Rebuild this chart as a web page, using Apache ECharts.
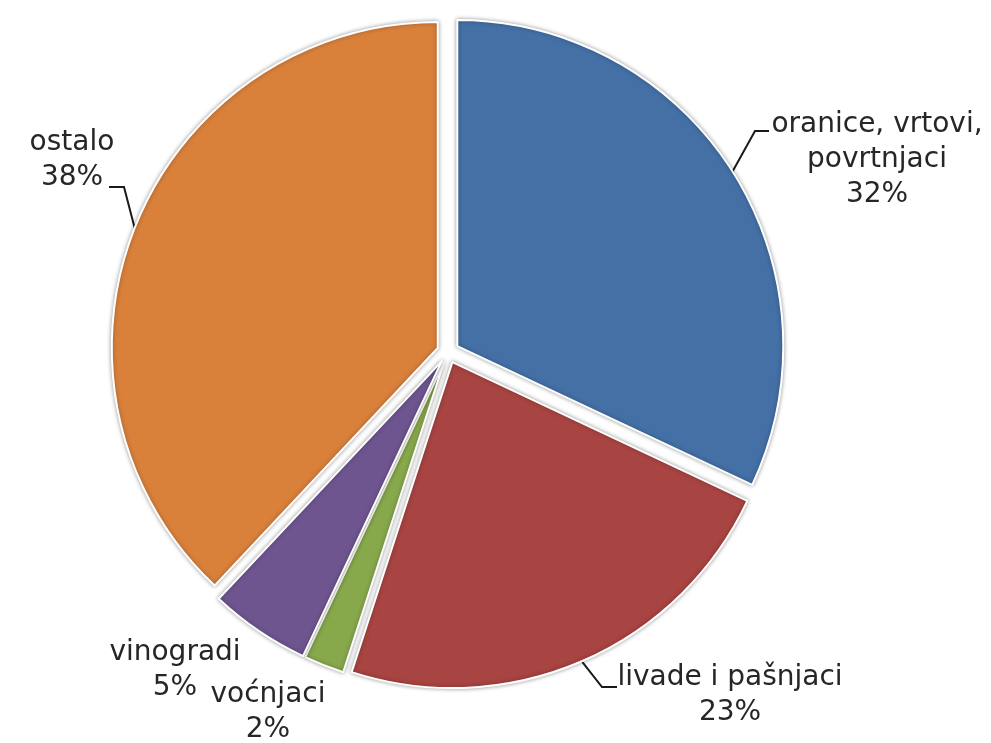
<!DOCTYPE html>
<html>
<head>
<meta charset="utf-8">
<script src="https://cdn.jsdelivr.net/npm/echarts@6/dist/echarts.min.js"></script>
<style>
  html, body { margin: 0; padding: 0; background: #fff; }
  #chart { width: 991px; height: 743px; }
</style>
</head>
<body>
<div id="chart"></div>
<script>
// podaci (udio u %)
const categories = ['oranice, vrtovi,\npovrtnjaci', 'livade i pašnjaci', 'voćnjaci', 'vinogradi', 'ostalo']
const shares = [32, 23, 2, 5, 38]
const sliceColors = ['#4470a6', '#a84442', '#88a84c', '#6e5590', '#d9803b']

// gdje stoje natpisi (centar teksta) i lomovi linija
const labelSpots = [
  { x: 877, y: 160, line: [[755, 131], [769, 131]] },
  { x: 730, y: 695, line: [[602, 687], [617, 687]] },
  { x: 268, y: 712, line: null },
  { x: 175, y: 670, line: null },
  { x: 72, y: 160, line: [[124, 187], [109, 187]] }
]

const pieCenter = [448, 352]
const pieRadius = 326
const explode = 11

const chart = echarts.init(document.getElementById('chart'))

const option = {
  animation: false,
  backgroundColor: '#fff',
  series: [
    {
      // isjecci, malo razmaknuti
      type: 'pie',
      center: pieCenter,
      radius: pieRadius,
      startAngle: 90,
      selectedMode: 'multiple',
      selectedOffset: explode,
      silent: true,
      itemStyle: {
        borderColor: '#fff',
        borderWidth: 2,
        shadowBlur: 4,
        shadowColor: 'rgba(0, 0, 0, 0.35)'
      },
      label: { show: false },
      labelLine: { show: false },
      data: categories.map((name, i) => ({
        name: name,
        value: shares[i],
        selected: true,
        itemStyle: { color: sliceColors[i] }
      }))
    },
    {
      // samo natpisi
      type: 'pie',
      center: pieCenter,
      radius: pieRadius + explode,
      startAngle: 90,
      silent: true,
      itemStyle: { color: 'rgba(0,0,0,0)' },
      label: {
        show: true,
        position: 'outside',
        formatter: '{b}\n{c}%',
        fontFamily: 'DejaVu Sans',
        fontSize: 28,
        lineHeight: 35,
        color: '#262626',
        overflow: 'none'
      },
      labelLine: {
        show: true,
        lineStyle: { color: '#1a1a1a', width: 2 }
      },
      labelLayout: function (params) {
        const s = labelSpots[params.dataIndex]
        const res = { x: s.x, y: s.y, align: 'center', verticalAlign: 'middle' }
        if (s.line && params.labelLinePoints) {
          res.labelLinePoints = [params.labelLinePoints[0], s.line[0], s.line[1]]
        }
        return res
      },
      data: categories.map((name, i) => ({
        name: name,
        value: shares[i],
        labelLine: { show: labelSpots[i].line !== null }
      }))
    }
  ]
}

chart.setOption(option)
</script>
</body>
</html>
